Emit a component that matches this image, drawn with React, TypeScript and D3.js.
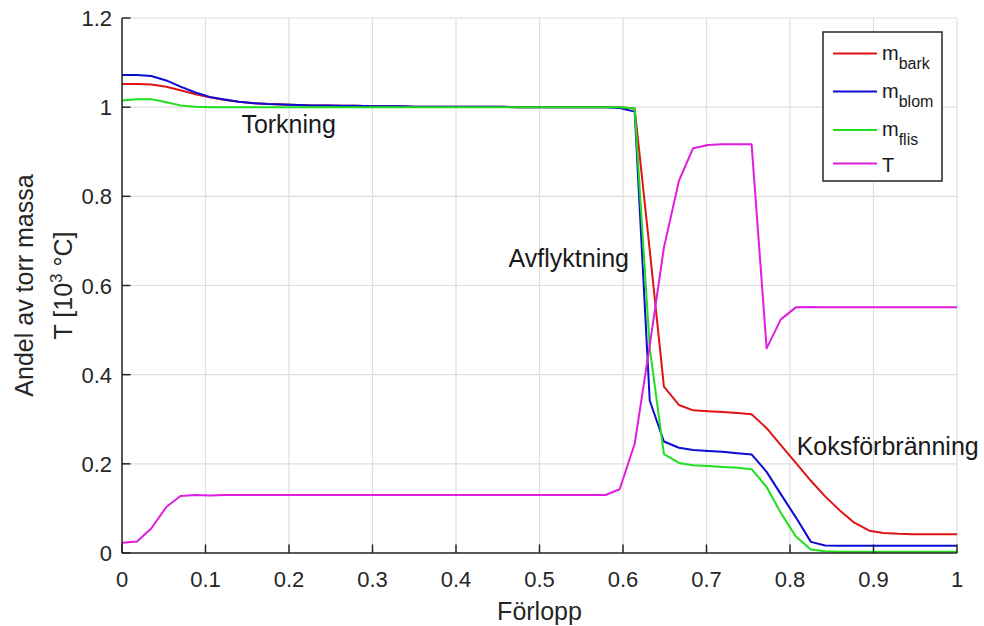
import * as d3 from 'd3'
import { useEffect, useRef } from 'react'

// progress grid shared by all series
const progress = [
  0, 0.018, 0.035, 0.053, 0.07, 0.088, 0.105, 0.123, 0.14, 0.158, 0.175, 0.193,
  0.211, 0.228, 0.246, 0.263, 0.281, 0.298, 0.316, 0.333, 0.351, 0.368, 0.386,
  0.404, 0.421, 0.439, 0.456, 0.474, 0.491, 0.509, 0.526, 0.544, 0.561, 0.579,
  0.596, 0.614, 0.632, 0.649, 0.667, 0.684, 0.702, 0.719, 0.737, 0.754, 0.772,
  0.789, 0.807, 0.825, 0.842, 0.86, 0.877, 0.895, 0.912, 0.93, 0.947, 0.965,
  0.982, 1,
]

const mBark = [
  1.052, 1.052, 1.051, 1.046, 1.038, 1.029, 1.022, 1.016, 1.012, 1.009, 1.007,
  1.006, 1.005, 1.004, 1.004, 1.003, 1.003, 1.002, 1.002, 1.002, 1.001, 1.001,
  1.001, 1.001, 1.001, 1.001, 1.001, 1.0, 1.0, 1.0, 1.0, 1.0, 1.0, 1.0, 1.0,
  0.997, 0.68, 0.373, 0.332, 0.32, 0.318, 0.316, 0.314, 0.311, 0.28, 0.242,
  0.202, 0.162, 0.127, 0.095, 0.068, 0.05, 0.045, 0.043, 0.042, 0.042, 0.042,
  0.042,
]

const mBlom = [
  1.072, 1.072, 1.07, 1.06, 1.046, 1.033, 1.023, 1.017, 1.012, 1.009, 1.007,
  1.006, 1.005, 1.004, 1.004, 1.003, 1.003, 1.002, 1.002, 1.002, 1.001, 1.001,
  1.001, 1.001, 1.001, 1.001, 1.001, 1.0, 1.0, 1.0, 1.0, 1.0, 1.0, 1.0, 0.998,
  0.99, 0.342, 0.25, 0.236, 0.231, 0.229, 0.227, 0.224, 0.221, 0.182, 0.132,
  0.08, 0.025, 0.017, 0.016, 0.016, 0.016, 0.016, 0.016, 0.016, 0.016, 0.016,
  0.016,
]

const mFlis = [
  1.015, 1.018, 1.018, 1.011, 1.004, 1.001, 1.0, 1.0, 1.0, 1.0, 1.0, 1.0, 1.0,
  1.0, 1.0, 1.0, 1.0, 1.0, 1.0, 1.0, 1.0, 1.0, 1.0, 1.0, 1.0, 1.0, 1.0, 1.0,
  1.0, 1.0, 1.0, 1.0, 1.0, 1.0, 1.0, 0.997, 0.46, 0.222, 0.202, 0.197, 0.195,
  0.193, 0.191, 0.188, 0.148, 0.09, 0.037, 0.008, 0.004, 0.003, 0.003, 0.003,
  0.003, 0.003, 0.003, 0.003, 0.003, 0.003,
]

const temp = [
  0.023, 0.026, 0.055, 0.103, 0.128, 0.13, 0.129, 0.13, 0.13, 0.13, 0.13, 0.13,
  0.13, 0.13, 0.13, 0.13, 0.13, 0.13, 0.13, 0.13, 0.13, 0.13, 0.13, 0.13, 0.13,
  0.13, 0.13, 0.13, 0.13, 0.13, 0.13, 0.13, 0.13, 0.13, 0.143, 0.245, 0.465,
  0.685, 0.835, 0.908, 0.915, 0.917, 0.917, 0.917, 0.459, 0.524, 0.551, 0.552,
  0.551, 0.551, 0.551, 0.551, 0.551, 0.551, 0.551, 0.551, 0.551, 0.551,
]

const seriesNames = ['bark', 'blom', 'flis', 'T']
const seriesValues = [mBark, mBlom, mFlis, temp]
const seriesColors = ['#e01414', '#0c0cd2', '#1ee01e', '#e01ee0']

const xTicks = [0, 0.1, 0.2, 0.3, 0.4, 0.5, 0.6, 0.7, 0.8, 0.9, 1]
const yTicks = [0, 0.2, 0.4, 0.6, 0.8, 1, 1.2]

const phaseLabels = ['Torkning', 'Avflyktning', 'Koksförbränning']
const phaseAt: [number, number][] = [
  [0.143, 0.943],
  [0.463, 0.642],
  [0.808, 0.22],
]

const W = 984
const H = 626
const font = 'Liberation Sans, Arial, Helvetica, sans-serif'
const axisColor = '#262626'

const App = () => {
  const ref = useRef<SVGSVGElement>(null)

  useEffect(() => {
    const svg = d3.select(ref.current)
    svg.selectAll('*').remove()

    const x = d3.scaleLinear().domain([0, 1]).range([122, 957])
    const y = d3.scaleLinear().domain([0, 1.2]).range([553, 18])

    // grid
    const grid = svg.append('g').attr('stroke', '#dedede').attr('stroke-width', 1.2)
    xTicks.forEach((t) => {
      grid
        .append('line')
        .attr('x1', x(t))
        .attr('x2', x(t))
        .attr('y1', y(0))
        .attr('y2', y(1.2))
    })
    yTicks.forEach((t) => {
      grid
        .append('line')
        .attr('x1', x(0))
        .attr('x2', x(1))
        .attr('y1', y(t))
        .attr('y2', y(t))
    })

    // series
    const line = d3
      .line<number>()
      .x((_d, i) => x(progress[i]))
      .y((d) => y(d))

    seriesValues.forEach((vals, k) => {
      svg
        .append('path')
        .datum(vals)
        .attr('d', line)
        .attr('fill', 'none')
        .attr('stroke', seriesColors[k])
        .attr('stroke-width', 2)
        .attr('stroke-linejoin', 'round')
    })

    // axes
    const axes = svg.append('g').attr('stroke', axisColor).attr('stroke-width', 1.5)
    axes
      .append('line')
      .attr('x1', x(0))
      .attr('x2', x(1))
      .attr('y1', y(0))
      .attr('y2', y(0))
    axes
      .append('line')
      .attr('x1', x(0))
      .attr('x2', x(0))
      .attr('y1', y(0))
      .attr('y2', y(1.2))
    xTicks.forEach((t) => {
      axes
        .append('line')
        .attr('x1', x(t))
        .attr('x2', x(t))
        .attr('y1', y(0))
        .attr('y2', y(0) - 8.5)
    })
    yTicks.forEach((t) => {
      axes
        .append('line')
        .attr('x1', x(0))
        .attr('x2', x(0) + 8.5)
        .attr('y1', y(t))
        .attr('y2', y(t))
    })

    const labels = svg
      .append('g')
      .attr('font-family', font)
      .attr('fill', axisColor)

    xTicks.forEach((t) => {
      labels
        .append('text')
        .attr('x', x(t))
        .attr('y', 587)
        .attr('text-anchor', 'middle')
        .attr('font-size', 22)
        .text(d3.format('~g')(t))
    })
    yTicks.forEach((t) => {
      labels
        .append('text')
        .attr('x', 112)
        .attr('y', y(t) + 8)
        .attr('text-anchor', 'end')
        .attr('font-size', 22)
        .text(d3.format('~g')(t))
    })

    labels
      .append('text')
      .attr('x', x(0.5))
      .attr('y', 620)
      .attr('text-anchor', 'middle')
      .attr('font-size', 25)
      .text('Förlopp')

    const yLab = labels
      .append('g')
      .attr('transform', `translate(0,${y(0.6)}) rotate(-90)`)
    yLab
      .append('text')
      .attr('x', 0)
      .attr('y', 33)
      .attr('text-anchor', 'middle')
      .attr('font-size', 25)
      .text('Andel av torr massa')
    const tLab = yLab
      .append('text')
      .attr('x', 0)
      .attr('y', 72)
      .attr('text-anchor', 'middle')
      .attr('font-size', 25)
    tLab.append('tspan').text('T [10')
    tLab.append('tspan').attr('font-size', 17).attr('dy', -10).text('3')
    tLab.append('tspan').attr('dy', 10).text(' °C]')

    // phase annotations
    phaseLabels.forEach((s, i) => {
      labels
        .append('text')
        .attr('x', x(phaseAt[i][0]))
        .attr('y', y(phaseAt[i][1]))
        .attr('font-size', 25)
        .attr('fill', '#1a1a1a')
        .text(s)
    })

    // legend
    const lg = svg.append('g')
    lg.append('rect')
      .attr('x', 823)
      .attr('y', 32)
      .attr('width', 119)
      .attr('height', 149)
      .attr('fill', 'white')
      .attr('stroke', axisColor)
      .attr('stroke-width', 1.5)
    const rowY = [53.5, 91.5, 130, 163.5]
    seriesNames.forEach((name, i) => {
      lg.append('line')
        .attr('x1', 833)
        .attr('x2', 877)
        .attr('y1', rowY[i])
        .attr('y2', rowY[i])
        .attr('stroke', seriesColors[i])
        .attr('stroke-width', 2)
      const t = lg
        .append('text')
        .attr('x', 882)
        .attr('y', rowY[i] + 6)
        .attr('font-family', font)
        .attr('font-size', 20)
        .attr('fill', '#1a1a1a')
      if (name === 'T') {
        t.attr('y', rowY[i] + 8).text('T')
      } else {
        t.append('tspan').text('m')
        t.append('tspan').attr('font-size', 16).attr('dy', 9).text(name)
      }
    })
  }, [])

  return (
    <svg
      ref={ref}
      width={W}
      height={H}
      style={{ position: 'absolute', left: 0, top: 0, background: 'white' }}
    />
  )
}

export default App
